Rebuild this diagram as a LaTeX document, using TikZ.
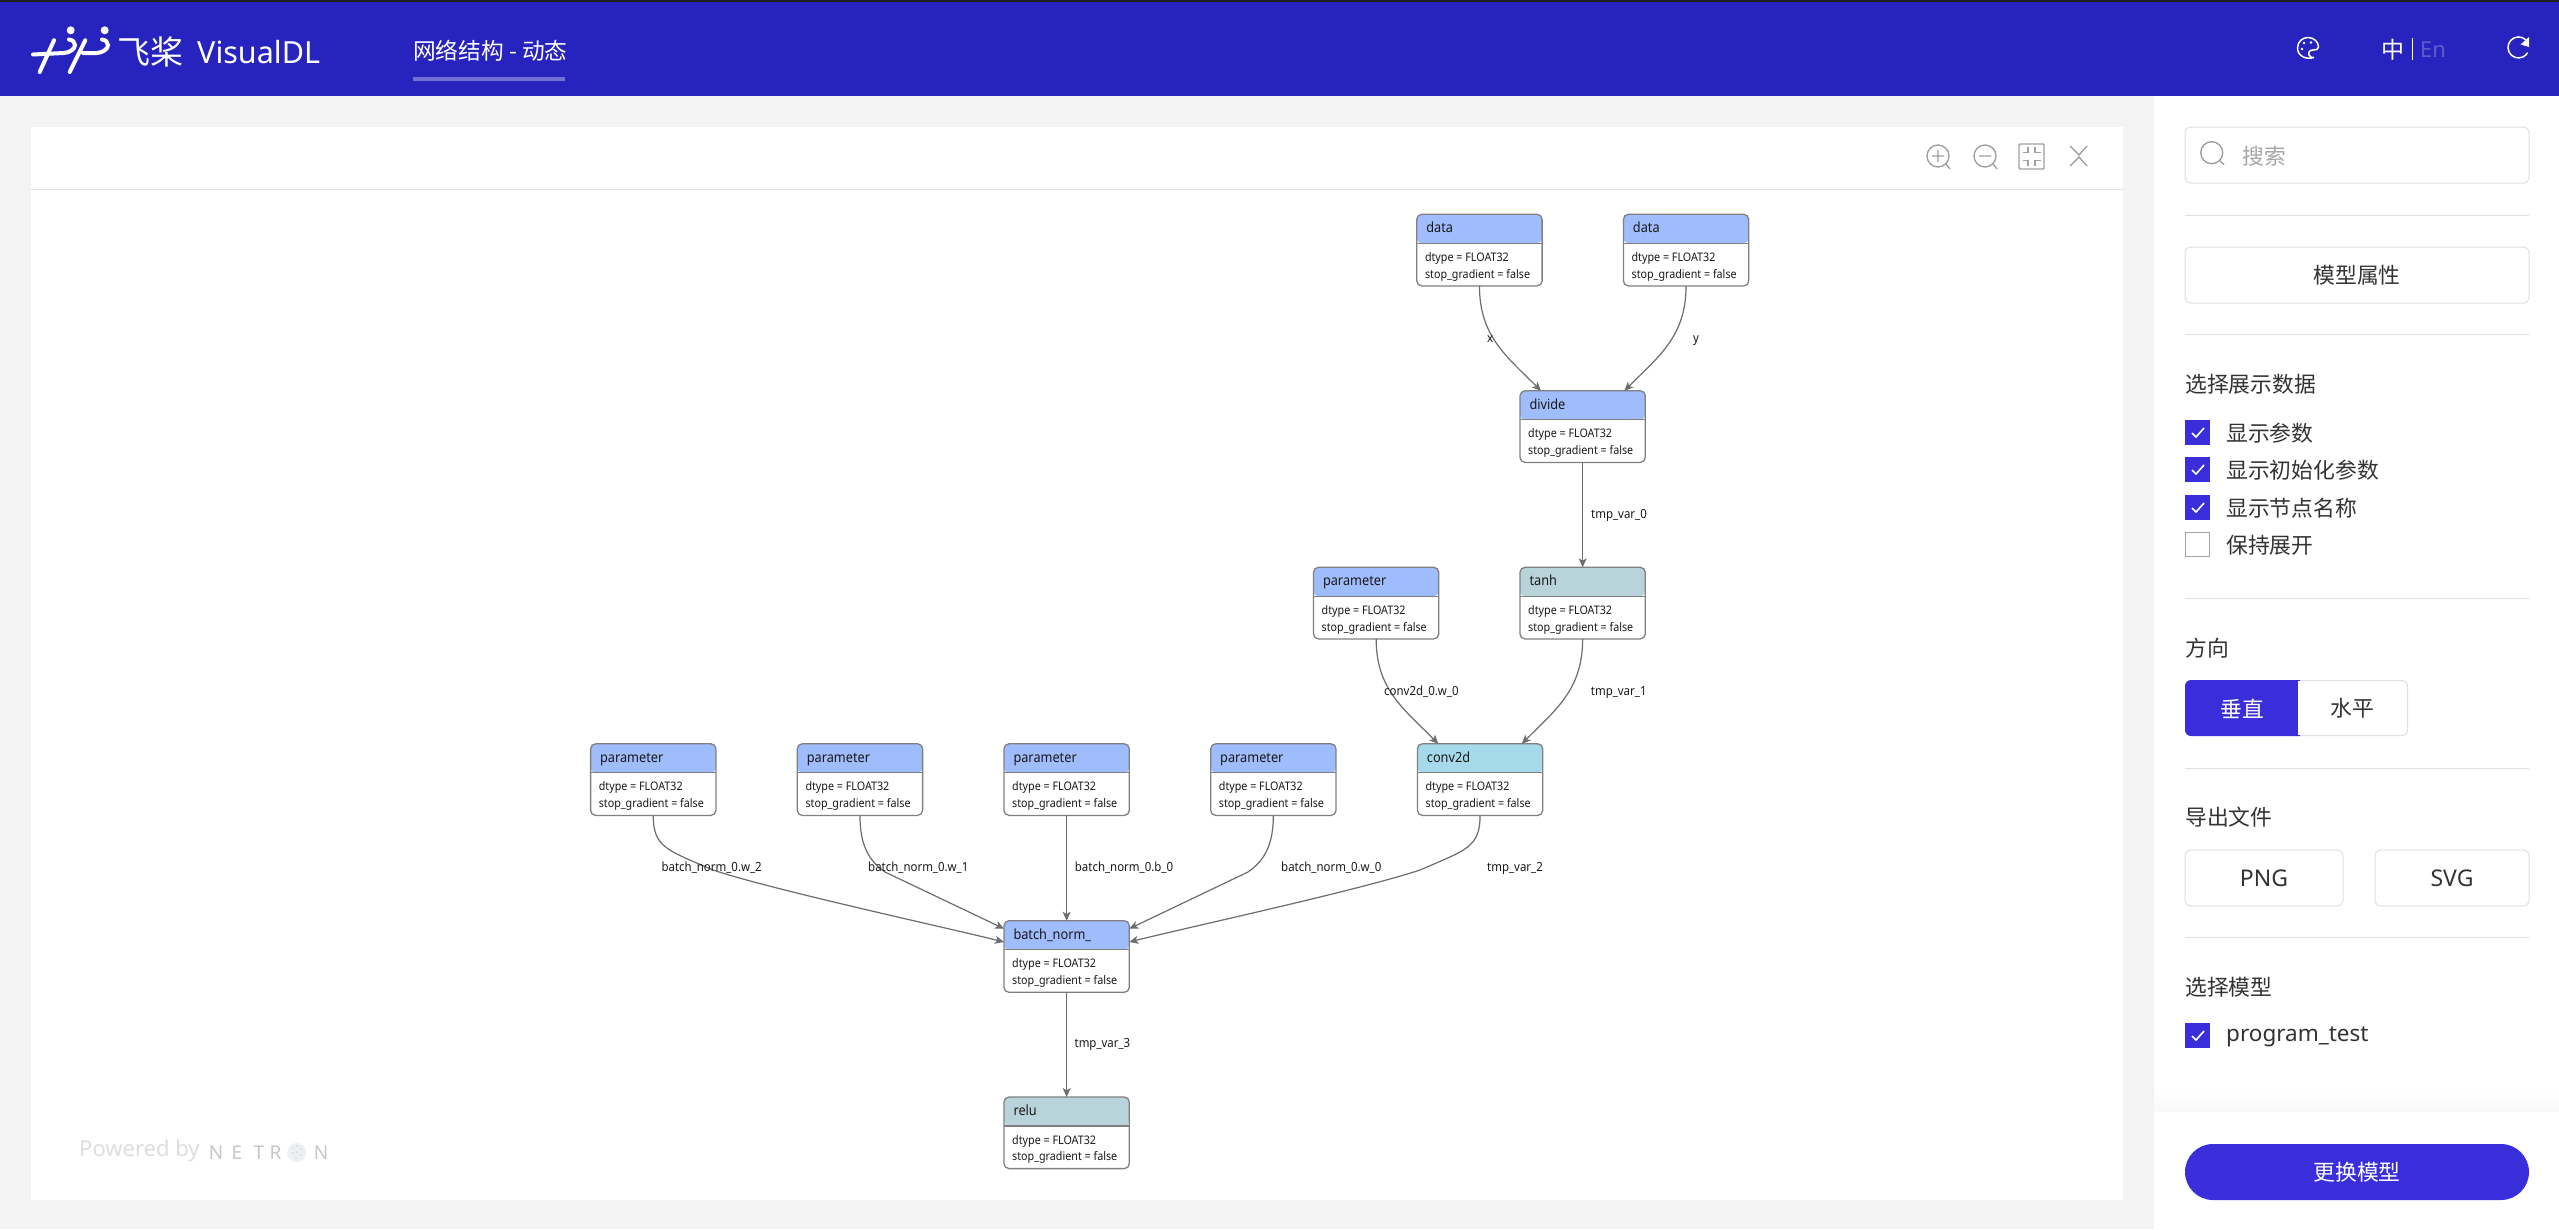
\documentclass[tikz,border=0pt]{standalone}
\usepackage{fontspec}
\usetikzlibrary{arrows.meta,calc}
\setmainfont{Noto Sans}
\newfontfamily\nar[FakeStretch=0.91]{Noto Sans}
\newfontfamily\cjk{Noto Sans CJK SC}
\newcommand{\fs}[1]{\fontsize{#1pt}{#1pt}\selectfont}
\definecolor{barblue}{HTML}{2723BE}
\definecolor{btnblue}{HTML}{3A2EDB}
\definecolor{pagebg}{HTML}{F3F3F3}
\definecolor{rulec}{HTML}{E0E0E0}
\definecolor{gborder}{HTML}{808080}
\definecolor{hblue}{HTML}{9FBCFC}
\definecolor{hgrey}{HTML}{B9D3DA}
\definecolor{hcyan}{HTML}{A6D9EA}
\definecolor{iconc}{HTML}{A0A0A0}
\definecolor{ink}{HTML}{333333}
\tikzset{
  gbox/.style={draw=gborder,line width=1.3pt,fill=white,rounded corners=5pt,minimum width=125.3pt,minimum height=71.6pt,inner sep=0pt,outer sep=0pt},
  gheader/.style={path picture={
    \fill[#1] (path picture bounding box.north west) rectangle ([yshift=-29pt]path picture bounding box.north east);
    \draw[gborder,line width=1.2pt] ([yshift=-29pt]path picture bounding box.north west) -- ([yshift=-29pt]path picture bounding box.north east);}},
  gtitle/.style={anchor=base west,inner sep=0pt,text=black!90,font=\nar\fs{14}},
  gattr/.style={anchor=base west,inner sep=0pt,text=black!90,font=\nar\fs{11.8}},
  elabel/.style={anchor=base west,inner sep=0pt,text=black!90,font=\nar\fs{12.6}},
  edge/.style={draw=gborder!85!black,line width=1.2pt,-{Stealth[length=9pt,width=8pt,inset=2.4pt]}},
  divider/.style={draw=rulec,line width=1pt},
  outlinebtn/.style={draw=rulec,line width=1pt,fill=white,rounded corners=6pt,inner sep=0pt,outer sep=0pt},
  sidetext/.style={anchor=west,inner sep=0pt,text=ink,font=\cjk\fs{21.8}},
  chk/.style={fill=btnblue,minimum size=25pt,inner sep=0pt,outer sep=0pt,anchor=north west},
  tick/.style={draw=white,line width=1.6pt},
  iconl/.style={draw=iconc,line width=1.4pt},
  whitel/.style={draw=white,line width=1.5pt},
  logol/.style={draw=white,line width=4pt,line cap=round},
}
\newcommand{\gnode}[5]{%
  \node[gbox,gheader=#5] (#1) at (#2+62.65,#3+35.8) {};
  \node[gtitle] (#1-t) at (#2+9.3,#3+18.5) {#4};
  \node[gattr] (#1-a) at (#2+8,#3+47) {dtype = FLOAT32};
  \node[gattr] (#1-b) at (#2+8,#3+63.7) {stop\_gradient = false};
}
\newcommand{\tickmark}[2]{\draw[tick] (#1+7,#2+13) -- (#1+11,#2+17) -- (#1+19,#2+8);}
\begin{document}
\begin{tikzpicture}[x=1pt,y=-1pt]
\useasboundingbox (0,0) rectangle (2559,1229);
% page
\fill[pagebg] (0,0) rectangle (2559,1229);
\fill[barblue] (0,0) rectangle (2559,96);
\fill[black!88] (0,0) rectangle (2559,2);
% graph panel
\fill[white] (31,127) rectangle (2123,1200);
\draw[divider] (31,189) -- (2123,189);
% right panel
\fill[white] (2154,96) rectangle (2559,1229);
\shade[top color=white,bottom color=black!3] (2154,1092) rectangle (2559,1112);
\fill[white] (2154,1112) rectangle (2559,1229);

% logo
\draw[logol] (54,40.3) -- (39.7,72);
\draw[logol] (33,54.5) -- (64,53) .. controls (70,52.5) and (75,49) .. (75,45) .. controls (75,42) and (72.5,40) .. (69,39.5);
\draw[logol] (85.3,40.3) -- (69.7,72);
\draw[logol] (83,53) -- (97,53) .. controls (103,52.5) and (108,49) .. (108,45) .. controls (108,42) and (105.5,40) .. (102,39.5);
\fill[white] (70.7,30.3) circle (4);
\fill[white] (104.7,30.3) circle (4);
\node[inner sep=0pt,text=white,font=\cjk\fs{33}] (feijiang) at (150.5,52) {飞桨};
\node[anchor=west,inner sep=0pt,text=white,font=\fs{30.5}] (brand) at (197,52.5) {VisualDL};
\node[anchor=west,inner sep=0pt,text=white,font=\cjk\fs{22.7}] (tabname) at (413,51) {网络结构 - 动态};
\fill[white!35!barblue] (413,77) rectangle (565,81);

% header right icons
\draw[whitel] (2314,57.5) .. controls (2306,60) and (2297.5,56) .. (2297.5,48) .. controls (2297.5,41) and (2303,37.5) .. (2308,37.5) .. controls (2314,37.5) and (2318.5,42) .. (2318.5,47) .. controls (2318.5,49.5) and (2316,50) .. (2313,50) .. controls (2310,50) and (2308,52) .. (2309,55) .. controls (2310,57) and (2312,58) .. (2314,57.5);
\fill[white] (2302,49) circle (1.4) (2304,43) circle (1.4) (2311,42.5) circle (1.4);
\node[inner sep=0pt,text=white,font=\cjk\fs{23}] (langzh) at (2393,50) {中};
\draw[white,line width=1pt] (2412.5,38) -- (2412.5,60);
\node[inner sep=0pt,text=white!25!barblue,font=\fs{22}] (langen) at (2433,50) {En};
\draw[whitel] (2528,43) arc (-25:-330:10.5);
\fill[white] (2529,37) -- (2529,47) -- (2520.5,44.5) -- cycle;

% toolbar icons
\draw[iconl] (1938,156) circle (11) (1946,164) -- (1950,169) (1932,156) -- (1944,156) (1938,150) -- (1938,162);
\draw[iconl] (1985,156) circle (11) (1993,164) -- (1997,169) (1979,156) -- (1991,156);
\draw[iconl,rounded corners=1pt] (2019,144) rectangle (2044,169);
\draw[iconc,line width=1.1pt] (2028,147) -- (2028,152.5) -- (2022.7,152.5) (2035,147) -- (2035,152.5) -- (2041,152.5) (2028,166) -- (2028,160.5) -- (2022.7,160.5) (2035,166) -- (2035,160.5) -- (2041,160.5);
\draw[iconl] (2070,146) -- (2079,155) -- (2087,146) (2070,166) -- (2079,157) -- (2087,166);

% graph nodes
\gnode{d1}{1416.8}{214.3}{data}{hblue}
\gnode{d2}{1623.4}{214.3}{data}{hblue}
\gnode{div}{1520}{390.8}{divide}{hblue}
\gnode{pt}{1313.5}{567.3}{parameter}{hblue}
\gnode{tanh}{1520}{567.3}{tanh}{hgrey}
\gnode{pa}{590.6}{743.8}{parameter}{hblue}
\gnode{pb}{797.3}{743.8}{parameter}{hblue}
\gnode{pc}{1004}{743.8}{parameter}{hblue}
\gnode{pd}{1210.7}{743.8}{parameter}{hblue}
\gnode{conv}{1417.4}{743.8}{conv2d}{hcyan}
\gnode{bn}{1004}{920.7}{batch\_norm\_}{hblue}
\gnode{relu}{1004}{1097}{relu}{hgrey}

% connector anchors
\coordinate (dva) at ($(div.north)+(-41.7,0)$);
\coordinate (dvb) at ($(div.north)+(41.7,0)$);
\coordinate (cva) at ($(conv.north)+(-41.7,0)$);
\coordinate (cvb) at ($(conv.north)+(41.7,0)$);
\coordinate (bla) at ($(bn.north west)+(0,8)$);
\coordinate (blb) at ($(bn.north west)+(0,21.3)$);
\coordinate (bra) at ($(bn.north east)+(0,8)$);
\coordinate (brb) at ($(bn.north east)+(0,21.3)$);
\coordinate (mb) at (885,872);
\coordinate (ma) at (713,870);
\coordinate (md) at (1248,872);
\coordinate (mc) at (1420,870);

% connectors
\draw[edge] (d1.south) .. controls +(0,50) and +(-35,-35) .. (dva);
\draw[edge] (d2.south) .. controls +(0,50) and +(35,-35) .. (dvb);
\draw[edge] (div.south) -- (tanh.north);
\draw[edge] (pt.south) .. controls +(0,50) and +(-35,-35) .. (cva);
\draw[edge] (tanh.south) .. controls +(0,50) and +(35,-35) .. (cvb);
\draw[edge] (pa.south) .. controls +(0,32) and +(-46,-20) .. (ma) .. controls +(60,20) and +(-60,-15) .. (blb);
\draw[edge] (pb.south) .. controls +(0,30) and +(-16,-11) .. (mb) -- (bla);
\draw[edge] (pc.south) -- (bn.north);
\draw[edge] (pd.south) .. controls +(0,30) and +(16,-11) .. (md) -- (bra);
\draw[edge] (conv.south) .. controls +(0,32) and +(46,-20) .. (mc) .. controls +(-60,20) and +(60,-15) .. (brb);
\draw[edge] (bn.south) -- (relu.north);

% connector labels
\node[elabel] (lx) at (1487,342) {x};
\node[elabel] (ly) at (1693,342) {y};
\node[elabel] (l0) at (1591,518.5) {tmp\_var\_0};
\node[elabel] (lc) at (1384,695) {conv2d\_0.w\_0};
\node[elabel] (l1) at (1590.7,695) {tmp\_var\_1};
\node[elabel] (lw2) at (661.4,871.7) {batch\_norm\_0.w\_2};
\node[elabel] (lw1) at (868,871.7) {batch\_norm\_0.w\_1};
\node[elabel] (lb0) at (1074.7,871.7) {batch\_norm\_0.b\_0};
\node[elabel] (lw0) at (1281,871.7) {batch\_norm\_0.w\_0};
\node[elabel] (l2) at (1487,871.7) {tmp\_var\_2};
\node[elabel] (l3) at (1074.4,1047.7) {tmp\_var\_3};

% watermark
\node[anchor=west,inner sep=0pt,text=black!13,font=\fs{22}] (pow) at (79,1151) {Powered by};
\foreach \nm/\cx/\ch in {wa/216/N,wb/237/E,wc/259/T,wd/275.5/R,we/321/N}
  \node[inner sep=0pt,text=black!22,font=\fs{19}] (\nm) at (\cx,1152.5) {\ch};
\fill[cyan!30!black!8!white] (296.7,1152.5) circle (9.5);
\fill[cyan!30!black!25!white] (293,1148) circle (.9) (297,1146) circle (.9) (301,1149) circle (.9) (293,1153) circle (.9) (297,1152) circle (.9) (301,1155) circle (.9) (296,1158) circle (.9);

% sidebar: search
\node[outlinebtn,minimum width=344pt,minimum height=56pt] (search) at (2357,155) {};
\draw[iconl] (2211.7,152.7) circle (11) (2219.5,160.5) -- (2224,164.7);
\node[anchor=west,inner sep=0pt,text=black!35,font=\cjk\fs{21.8}] (searcht) at (2242,156.5) {搜索};
\draw[divider] (2185,215) -- (2529,215);
\node[outlinebtn,minimum width=344pt,minimum height=56pt,text=ink,font=\cjk\fs{21.8}] (attrs) at (2357,275) {模型属性};
\draw[divider] (2185,334) -- (2529,334);
\node[sidetext] (showt) at (2185,384.5) {选择展示数据};
% checkboxes
\node[chk] (c1) at (2185,420) {}; \tickmark{2185}{420}
\node[sidetext] (c1t) at (2226,433.5) {显示参数};
\node[chk] (c2) at (2185,457) {}; \tickmark{2185}{457}
\node[sidetext] (c2t) at (2226,470.5) {显示初始化参数};
\node[chk] (c3) at (2185,495) {}; \tickmark{2185}{495}
\node[sidetext] (c3t) at (2226,508.5) {显示节点名称};
\node[draw=iconc,line width=1pt,fill=white,minimum size=24pt,inner sep=0pt,outer sep=0pt,anchor=north west] (c4) at (2185.5,532.5) {};
\node[sidetext] (c4t) at (2226,545.5) {保持展开};
\draw[divider] (2185,598) -- (2529,598);
\node[sidetext] (dirt) at (2185,648.5) {方向};
\draw[rulec,line width=1pt,fill=white,rounded corners=6pt] (2290,680.5) -- (2407.5,680.5) -- (2407.5,735.5) -- (2290,735.5);
\fill[btnblue,rounded corners=6pt] (2300,680) -- (2185,680) -- (2185,736) -- (2300,736);
\fill[btnblue] (2290,680) rectangle (2298,736);
\fill[white] (2298,681) rectangle (2310,735);
\node[inner sep=0pt,text=white,font=\cjk\fs{21.8}] (vert) at (2242,708.5) {垂直};
\node[inner sep=0pt,text=ink,font=\cjk\fs{21.8}] (horz) at (2352,708.5) {水平};
\draw[divider] (2185,768) -- (2529,768);
\node[sidetext] (expt) at (2185,817.5) {导出文件};
\node[outlinebtn,minimum width=158pt,minimum height=56pt,text=ink,font=\fs{23}] (png) at (2264,878) {PNG};
\node[outlinebtn,minimum width=154pt,minimum height=56pt,text=ink,font=\fs{23}] (svg) at (2452,878) {SVG};
\draw[divider] (2185,937) -- (2529,937);
\node[sidetext] (modt) at (2185,987.5) {选择模型};
\node[chk] (c5) at (2185,1023) {}; \tickmark{2185}{1023}
\node[anchor=west,inner sep=0pt,text=ink,font=\fs{22.5}] (prog) at (2226,1037) {program\_test};
\node[fill=btnblue,rounded corners=28pt,minimum width=344pt,minimum height=56pt,inner sep=0pt,outer sep=0pt,text=white,font=\cjk\fs{21.8}] (swap) at (2357,1172) {更换模型};
\end{tikzpicture}
\end{document}
